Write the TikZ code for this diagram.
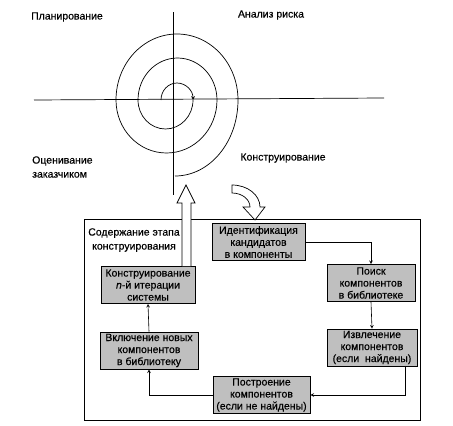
\documentclass[tikz,border=0pt]{standalone}
\usepackage{fontspec}
\setmainfont[FakeBold=0.4]{Liberation Sans}
\begin{document}
\begin{tikzpicture}[>=stealth,x=1pt,y=-1pt,
	blk/.style={draw,line width=.8pt,fill=black!25,inner sep=1pt,align=center,minimum height=37pt,font=\fontsize{10.5}{12}\selectfont},
	lbl/.style={font=\fontsize{10.5}{14}\selectfont,inner sep=0pt}]
	\useasboundingbox (0,0) rectangle (453,426);
	% оси и спираль
	\draw[line width=.7pt] (173,12)--(173,195);
	\draw[line width=.7pt] (34,100)--(384,98);
	\draw[line width=.7pt,->] (161,100) arc[start angle=180,end angle=360,x radius=16,y radius=17];
	\draw[line width=.7pt] (193,100) arc[start angle=0,end angle=180,x radius=27.5,y radius=29]
		arc[start angle=180,end angle=360,x radius=39.5,y radius=42]
		arc[start angle=0,end angle=180,x radius=50.5,y radius=53]
		arc[start angle=180,end angle=360,x radius=61,y radius=66]
		arc[start angle=0,end angle=90,x radius=63,y radius=76];
	\node[lbl] (plan) at (67,17) {Планирование};
	\node[lbl] (risk) at (271,15) {Анализ риска};
	\node[lbl,anchor=west,align=left] (eval) at (32,167) {Оценивание\\заказчиком};
	\node[lbl] (constr) at (283,158) {Конструирование};
	% этап конструирования
	\draw[line width=.7pt] (84,219) rectangle (420,420);
	\node[lbl,align=center] (stage) at (134,240) {Содержание этапа\\конструирования};
	\node[blk,minimum width=93pt] (ident) at (258.5,242) {Идентификация\\кандидатов\\в компоненты};
	\node[blk,minimum width=88pt] (search) at (371,283) {Поиск\\компонентов\\в библиотеке};
	\node[blk,minimum width=90pt] (extract) at (372,347.5) {Извлечение\\компонентов\\(если \ найдены)};
	\node[blk,minimum width=97pt] (build) at (261.5,395) {Построение\\компонентов\\(если не найдены)};
	\node[blk,minimum width=98pt] (incl) at (149,350.5) {Включение новых\\компонентов\\в библиотеку};
	\node[blk,minimum width=94pt] (iter) at (148,285) {Конструирование\\\textit{n}-й итерации\\системы};
	\draw[line width=.6pt,->] (ident.east) -| (search.north);
	\draw[line width=.6pt,->] (search.south) -- (extract.north);
	\draw[line width=.6pt,->] ([xshift=33pt]extract.south) |- (build.east);
	\draw[line width=.6pt,->] (build.west) -| (incl.south);
	\draw[line width=.6pt,->] (incl.north) -- (iter.south);
	% полые стрелки
	\filldraw[fill=white,line width=.7pt] (iter.north-|182,0) -- (182,203) -- (177,203) -- (186,185)
		-- (195,203) -- (191,203) -- (iter.north-|191,0);
	\filldraw[fill=white,line width=.7pt] (232,185) arc[start angle=270,end angle=360,x radius=28,y radius=22]
		-- (265,207) -- (255,220) -- (243,207) -- (250,207)
		arc[start angle=360,end angle=270,x radius=18,y radius=14] -- cycle;
\end{tikzpicture}
\end{document}
